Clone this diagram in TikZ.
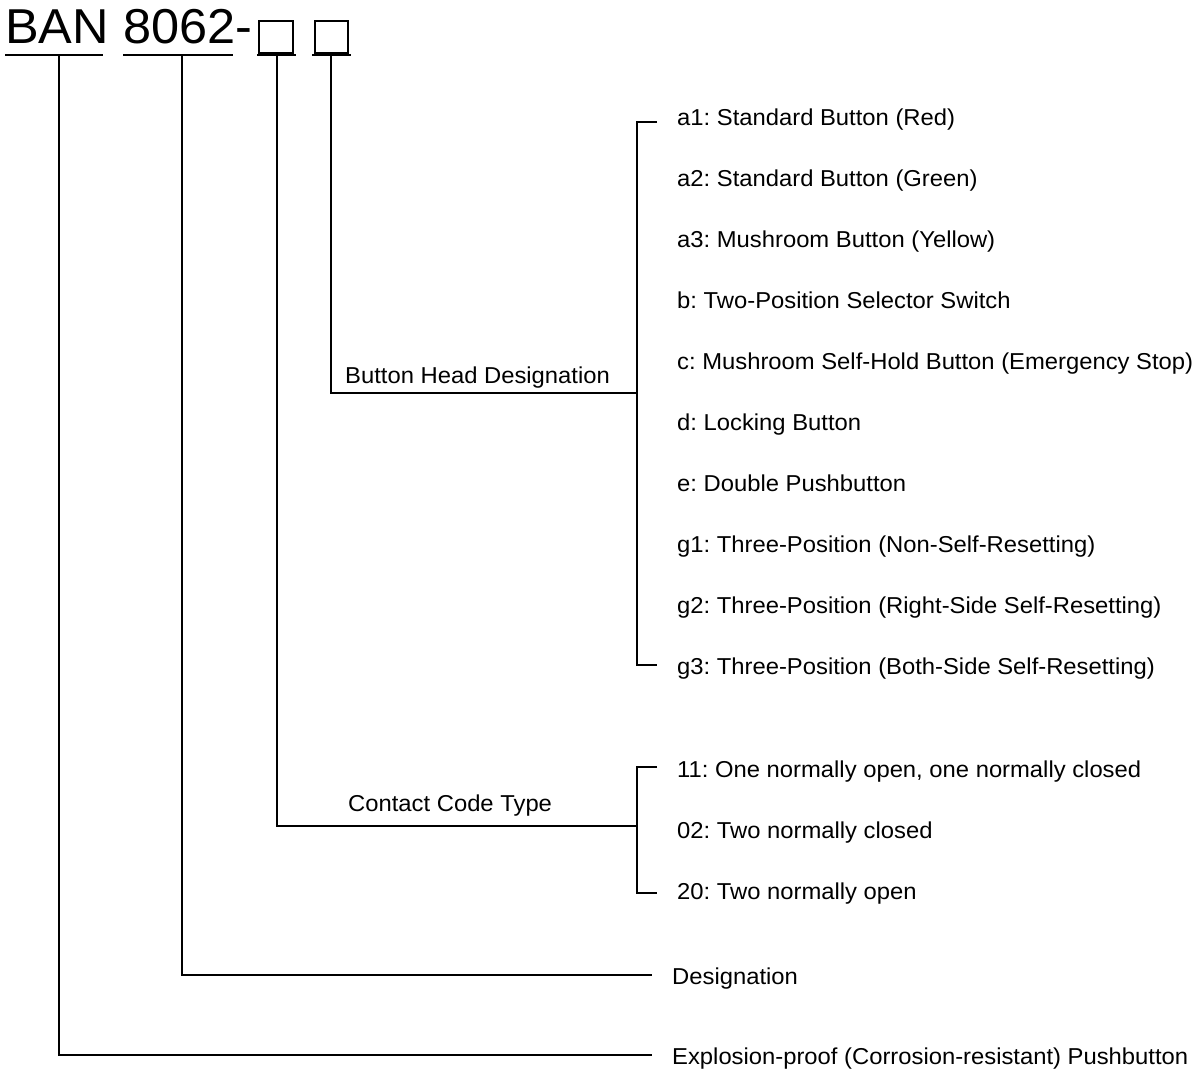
\documentclass[tikz,border=0pt]{standalone}
\usepackage{fontspec}
\setmainfont{Liberation Sans}[FakeStretch=1.035]
\newfontfamily\titlefont{Liberation Sans}[FakeStretch=1.03]
\frenchspacing
\begin{document}
\begin{tikzpicture}[x=1bp,y=-1bp,
  ln/.style={line width=1.8bp,black},
  bx/.style={line width=1.4bp,black},
  lbl/.style={anchor=base west,inner sep=0pt,font=\frenchspacing\fontsize{23bp}{27bp}\selectfont},
  ttl/.style={anchor=base west,inner sep=0pt,font=\titlefont\fontsize{49bp}{56bp}\selectfont}]
\useasboundingbox (0,0) rectangle (1200,1078);
% title
\node[ttl] (ban) at (5,43) {BAN};
\node[ttl] (num) at (123,43) {8062-};
\draw[bx] (259,21) rectangle (293,53);
\draw[bx] (315,21) rectangle (348,53);
% underlines
\draw[ln] (5,55) -- (103,55);
\draw[ln] (123,55) -- (233,55);
\draw[ln] (257,55) -- (296,55);
\draw[ln] (312,55) -- (351,55);
% coordinates
\coordinate (v1) at (59,55);
\coordinate (v2) at (182,55);
\coordinate (v3) at (277,55);
\coordinate (v4) at (331,55);
% labels
\node[lbl] (bhd) at (345,383) {Button Head Designation};
\node[lbl] (cct) at (348,811) {Contact Code Type};
\node[lbl] (des) at (672,984) {Designation};
\node[lbl] (exp) at (672,1064) {Explosion-proof (Corrosion-resistant) Pushbutton};
% items
\node[lbl] (a1) at (677,125) {a1: Standard Button (Red)};
\node[lbl] (a2) at (677,186) {a2: Standard Button (Green)};
\node[lbl] (a3) at (677,247) {a3: Mushroom Button (Yellow)};
\node[lbl] (b)  at (677,308) {b: Two-Position Selector Switch};
\node[lbl] (c)  at (677,369) {c: Mushroom Self-Hold Button (Emergency Stop)};
\node[lbl] (d)  at (677,430) {d: Locking Button};
\node[lbl] (e)  at (677,491) {e: Double Pushbutton};
\node[lbl] (g1) at (677,552) {g1: Three-Position (Non-Self-Resetting)};
\node[lbl] (g2) at (677,613) {g2: Three-Position (Right-Side Self-Resetting)};
\node[lbl] (g3) at (677,674) {g3: Three-Position (Both-Side Self-Resetting)};
\node[lbl] (k11) at (677,777) {11: One normally open, one normally closed};
\node[lbl] (k02) at (677,838) {02: Two normally closed};
\node[lbl] (k20) at (677,899) {20: Two normally open};
% connectors
\draw[ln] (v1) |- (652,1055);
\draw[ln] (v2) |- (652,975);
\draw[ln] (v3) |- (637,826);
\draw[ln] (v4) |- (637,393);
% brackets
\draw[ln] (657,122) -| (637,665) -- (657,665);
\draw[ln] (657,767) -| (637,893) -- (657,893);
\end{tikzpicture}
\end{document}
